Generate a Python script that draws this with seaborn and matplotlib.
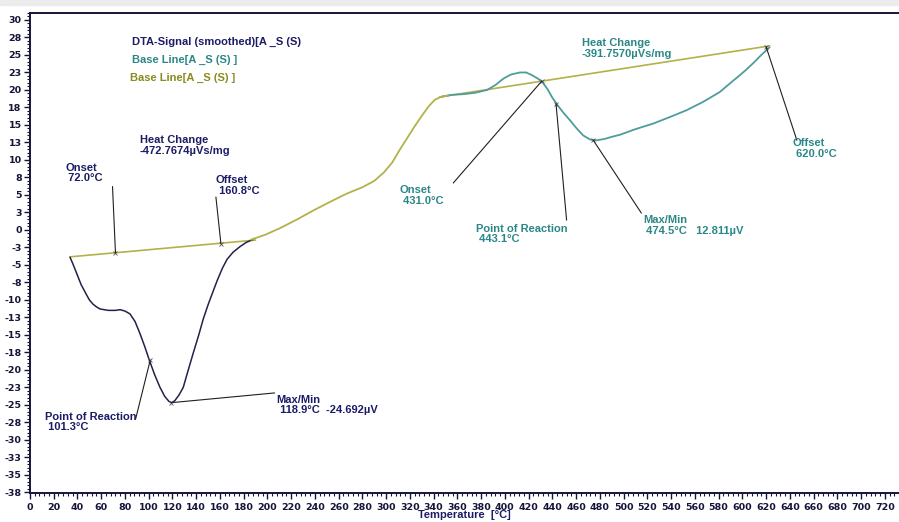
import matplotlib
matplotlib.use("Agg")
import matplotlib.pyplot as plt
import seaborn as sns
import pandas as pd
from matplotlib.patches import Rectangle
from matplotlib.ticker import MultipleLocator, FixedLocator

# ---- data ----
# first (endothermic) peak, navy signal
sig1_t = [33.7, 36, 39.3, 43, 47.7, 50, 53, 56, 59, 66, 72, 76, 80, 84.2, 88.5, 92.6,
          96.5, 100.5, 105, 109.5, 113.5, 117, 119.3, 122, 125.5, 129.1, 133, 137.5,
          142, 146, 150, 154.4, 158, 162, 166, 171, 176.8, 182, 188]
sig1_v = [-3.9, -4.8, -6.2, -7.8, -9.3, -10.0, -10.6, -11.0, -11.3, -11.5, -11.5, -11.4,
          -11.6, -12.0, -13.1, -14.8, -16.6, -18.6, -20.7, -22.5, -23.8, -24.5, -24.7,
          -24.4, -23.6, -22.5, -20.2, -17.6, -15.1, -12.7, -10.7, -8.7, -7.1, -5.5,
          -4.2, -3.2, -2.4, -1.8, -1.35]

# middle part of the signal (drawn olive)
sig2_t = [186, 198, 210, 225, 240, 255, 267, 280, 290, 298, 305, 312, 318, 324, 330,
          336, 341, 346, 352]
sig2_v = [-1.4, -0.7, 0.2, 1.5, 2.9, 4.2, 5.2, 6.1, 7.0, 8.2, 9.6, 11.6, 13.2, 14.8,
          16.3, 17.7, 18.6, 19.0, 19.2]

# second peak, teal signal
sig3_t = [346, 355, 365, 375, 385, 392, 398.6, 405, 412.6, 418, 423, 428, 431.7, 436,
          440, 444.9, 450, 454.7, 460, 466, 472, 477, 484, 490, 497, 510, 525, 540, 553,
          567, 581, 590, 595, 602, 609, 616, 623]
sig3_v = [19.0, 19.3, 19.4, 19.6, 20.0, 20.7, 21.6, 22.2, 22.5, 22.5, 22.1, 21.6, 21.1,
          20.1, 18.9, 17.7, 16.6, 15.7, 14.6, 13.5, 12.9, 12.8, 13.0, 13.3, 13.6, 14.4,
          15.2, 16.2, 17.1, 18.3, 19.7, 21.0, 21.7, 22.7, 23.8, 25.0, 26.1]

# base lines
base1_t = [33.7, 190]
base1_v = [-3.85, -1.45]
base2_t = [345, 623]
base2_v = [19.0, 26.3]

# evaluated points (temperature, signal)
evt_names = ["Onset", "Offset", "Point of Reaction", "Max/Min",
             "Onset", "Point of Reaction", "Max/Min", "Offset"]
evt_t = [72.0, 160.8, 101.3, 118.9, 431.0, 443.1, 474.5, 620.0]
evt_v = [-3.3, -1.95, -18.6, -24.692, 21.25, 18.0, 12.811, 26.2]
evt_text = ["72.0°C", "160.8°C", "101.3°C", "118.9°C  -24.692µV",
            "431.0°C", "443.1°C", "474.5°C   12.811µV", "620.0°C"]
heat_change = ["-472.7674µVs/mg", "-391.7570µVs/mg"]

x_ticks = list(range(0, 721, 20))
y_ticks = [30, 27.5, 25, 22.5, 20, 17.5, 15, 12.5, 10, 7.5, 5, 2.5, 0, -2.5, -5, -7.5,
           -10, -12.5, -15, -17.5, -20, -22.5, -25, -27.5, -30, -32.5, -35, -37.5]
y_labels = ["30", "28", "25", "23", "20", "18", "15", "13", "10", "8", "5", "3", "0",
            "-3", "-5", "-8", "-10", "-13", "-15", "-18", "-20", "-23", "-25", "-28",
            "-30", "-33", "-35", "-38"]

NAVY = "#1c1c66"
NAVY_LINE = "#22224a"
TEAL = "#2b8787"
TEAL_LINE = "#4f9c9c"
OLIVE = "#8a8a1e"
OLIVE_LINE = "#b2b24a"
LEAD = "#202020"

sns.set_style("ticks")
plt.rcParams["font.family"] = ["Liberation Sans Narrow", "Liberation Sans", "DejaVu Sans"]

fig = plt.figure(figsize=(8.99, 5.22), dpi=100)
fig.patches.append(Rectangle((0, 0.99), 1, 0.01, transform=fig.transFigure,
                             color="#ececec", zorder=0))
ax = fig.add_axes([30 / 899, 29 / 522, 1 - 30 / 899, (493 - 13) / 522])

df1 = pd.DataFrame({"T": sig1_t, "V": sig1_v})
df2 = pd.DataFrame({"T": sig2_t, "V": sig2_v})
df3 = pd.DataFrame({"T": sig3_t, "V": sig3_v})

sns.lineplot(data=pd.DataFrame({"T": base1_t, "V": base1_v}), x="T", y="V", ax=ax,
             color=OLIVE_LINE, lw=1.2, sort=False, estimator=None)
sns.lineplot(data=pd.DataFrame({"T": base2_t, "V": base2_v}), x="T", y="V", ax=ax,
             color=OLIVE_LINE, lw=1.2, sort=False, estimator=None)
sns.lineplot(data=df1, x="T", y="V", ax=ax, color=NAVY_LINE, lw=1.1, sort=False, estimator=None)
sns.lineplot(data=df3, x="T", y="V", ax=ax, color=TEAL_LINE, lw=1.3, sort=False, estimator=None)
sns.lineplot(data=df2, x="T", y="V", ax=ax, color=OLIVE_LINE, lw=1.3, sort=False, estimator=None)

# leader lines and labels (label/leader placement is layout only)
leader_end = [(69.5, 6.2), (156.6, 4.7), (89, -27), (206, -23.3),
              (356.5, 6.7), (452, 1.4), (515, 2.4), (646, 12.8)]
label_pos = [(29.5, 9.6), (156.4, 7.8), (12.6, -26.0), (207.7, -23.6),
             (311.6, 6.4), (375.6, 0.9), (516.5, 2.1), (642.5, 13.1)]
for i in range(len(evt_t)):
    col = NAVY if i < 4 else TEAL
    ax.annotate("", xy=(evt_t[i], evt_v[i]), xytext=leader_end[i],
                arrowprops=dict(arrowstyle="-", color=LEAD, lw=0.8,
                                shrinkA=0, shrinkB=0))
    ax.plot(evt_t[i], evt_v[i], marker="x", ms=3, mew=0.6, color="#555555")
    ax.text(label_pos[i][0], label_pos[i][1], evt_names[i] + "\n " + evt_text[i],
            color=col, fontsize=8, fontweight="bold", va="top", ha="left",
            linespacing=1.05)

ax.text(92.6, 13.5, "Heat Change\n" + heat_change[0], color=NAVY, fontsize=8,
        fontweight="bold", va="top", ha="left", linespacing=1.05)
ax.text(464.6, 27.4, "Heat Change\n" + heat_change[1], color=TEAL, fontsize=8,
        fontweight="bold", va="top", ha="left", linespacing=1.05)

# legend-like captions
ax.text(86, 27.6, "DTA-Signal (smoothed)[A _S (S)", color=NAVY, fontsize=8,
        fontweight="bold", va="top", ha="left")
ax.text(86, 25.0, "Base Line[A _S (S) ]", color=TEAL, fontsize=8,
        fontweight="bold", va="top", ha="left")
ax.text(84, 22.4, "Base Line[A _S (S) ]", color=OLIVE, fontsize=8,
        fontweight="bold", va="top", ha="left")

ax.set_xlim(0, 732)
ax.set_ylim(-37.6, 31)
ax.xaxis.set_major_locator(FixedLocator(x_ticks))
ax.xaxis.set_minor_locator(MultipleLocator(4))
ax.set_xticks(x_ticks)
ax.set_xticklabels([str(t) for t in x_ticks])
ax.set_yticks(y_ticks)
ax.set_yticklabels(y_labels)
ax.yaxis.set_minor_locator(MultipleLocator(0.5))
ax.tick_params(which="major", length=4, width=1, color="#15153a", labelsize=6.8,
               pad=2, labelcolor="#15153a")
ax.tick_params(axis="x", which="major", pad=3)
ax.tick_params(which="minor", length=2, width=0.8, color="#15153a")
for lab in ax.get_xticklabels() + ax.get_yticklabels():
    lab.set_fontweight("bold")
    lab.set_family(["DejaVu Sans"])

for s in ["left", "bottom", "top"]:
    ax.spines[s].set_color("#15153a")
    ax.spines[s].set_linewidth(1.4)
ax.spines["right"].set_visible(False)

ax.set_xlabel("Temperature  [°C]", fontsize=8, fontweight="bold", color=NAVY, labelpad=-1)
ax.set_ylabel("")

fig.savefig("out.png", dpi=100)
plt.close(fig)
